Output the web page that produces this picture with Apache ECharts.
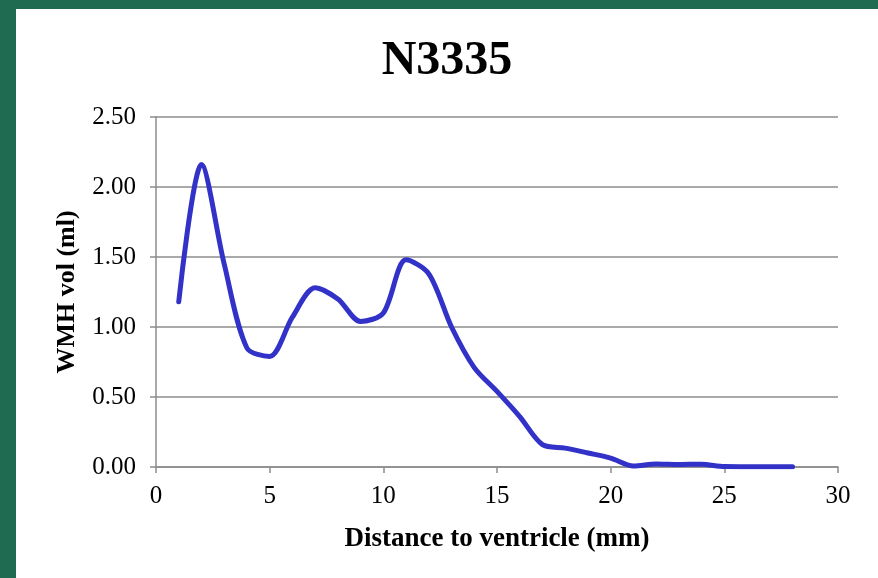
<!DOCTYPE html>
<html>
<head>
<meta charset="utf-8">
<script src="https://cdn.jsdelivr.net/npm/echarts@6/dist/echarts.min.js"></script>
<style>
html,body{margin:0;padding:0;background:#1f6b52;width:878px;height:578px;overflow:hidden;}
#chart{position:absolute;left:16px;top:9px;width:862px;height:569px;background:#ffffff;}
</style>
</head>
<body>
<div id="chart"></div>
<script>
var chartTitle = 'N3335';
var xName = 'Distance to ventricle (mm)';
var yName = 'WMH vol (ml)';
var distances = [1,2,3,4,5,6,7,8,9,10,11,12,13,14,15,16,17,18,19,20,21,22,23,24,25,26,27,28];
var wmhVol = [1.18,2.16,1.45,0.85,0.79,1.07,1.28,1.20,1.04,1.10,1.48,1.38,1.00,0.71,0.54,0.36,0.16,0.135,0.10,0.064,0.008,0.022,0.018,0.02,0.003,0.002,0.002,0.002];

var data = distances.map(function(d,i){return [d, wmhVol[i]];});
var font = '"Liberation Serif","Times New Roman",serif';
var grey = '#8c8c8c';

var chart = echarts.init(document.getElementById('chart'));
chart.setOption({
  animation: false,
  backgroundColor: '#ffffff',
  title: {
    text: chartTitle,
    left: 'center',
    top: 24,
    textStyle: {fontFamily: font, fontSize: 48, fontWeight: 'bold', color: '#000'}
  },
  grid: {left: 140, right: 40, top: 108, bottom: 111, containLabel: false},
  xAxis: {
    type: 'value',
    min: 0, max: 30, interval: 5,
    name: xName,
    nameLocation: 'middle',
    nameGap: 59,
    nameTextStyle: {fontFamily: font, fontSize: 27, fontWeight: 'bold', color: '#000'},
    axisLine: {show: true, lineStyle: {color: grey, width: 1.5}},
    axisTick: {show: true, inside: false, length: 6, lineStyle: {color: grey, width: 1.5}},
    axisLabel: {fontFamily: font, fontSize: 25, color: '#000', margin: 17},
    splitLine: {show: false}
  },
  yAxis: {
    type: 'value',
    min: 0, max: 2.5, interval: 0.5,
    name: yName,
    nameLocation: 'middle',
    nameGap: 76,
    nameRotate: 90,
    nameTextStyle: {fontFamily: font, fontSize: 26, fontWeight: 'bold', color: '#000'},
    axisLine: {show: true, lineStyle: {color: grey, width: 1.5}},
    axisTick: {show: true, inside: false, length: 6, lineStyle: {color: grey, width: 1.5}},
    axisLabel: {fontFamily: font, fontSize: 25, color: '#000', margin: 20,
      formatter: function(v){return v.toFixed(2);}},
    splitLine: {show: true, lineStyle: {color: grey, width: 1.5}}
  },
  series: [{
    type: 'line',
    data: data,
    smooth: 0.3,
    showSymbol: false,
    symbol: 'none',
    lineStyle: {color: '#3232c8', width: 5, cap: 'round', join: 'round'}
  }]
});
</script>
</body>
</html>
